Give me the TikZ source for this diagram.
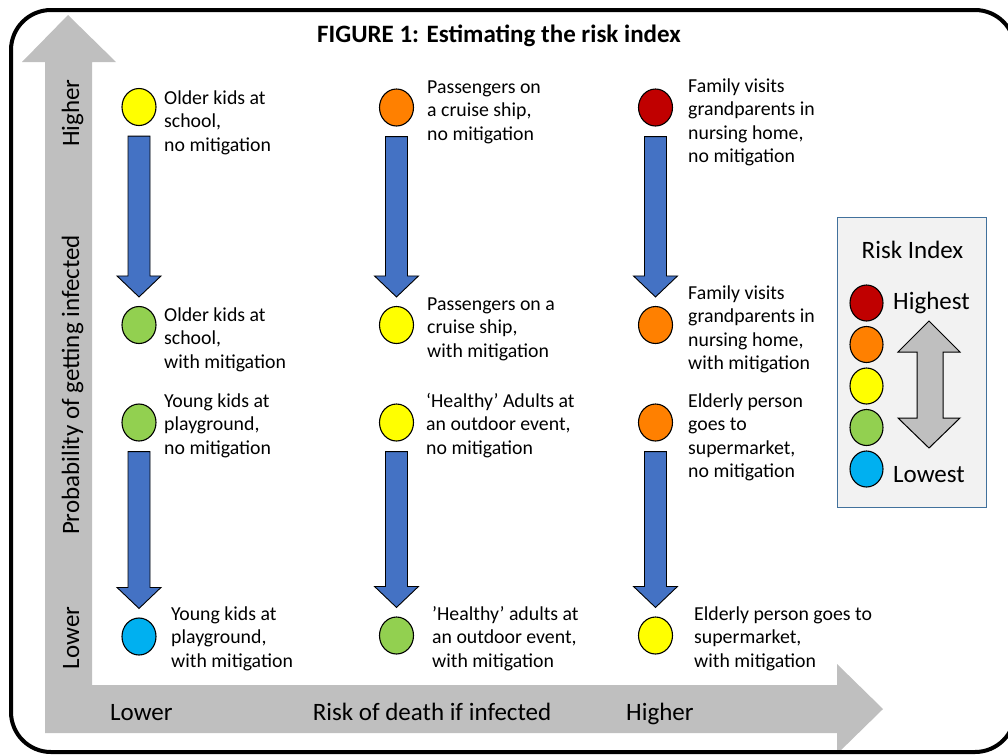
\documentclass[tikz,border=0pt]{standalone}
\usepackage{fontspec}
\setmainfont{Carlito}
\usepackage{tikz}
\usetikzlibrary{positioning,shapes.geometric,calc}

\definecolor{riskred}{HTML}{C00000}
\definecolor{riskorange}{HTML}{FF8000}
\definecolor{riskyellow}{HTML}{FFFF00}
\definecolor{riskgreen}{HTML}{92D050}
\definecolor{riskblue}{HTML}{00B0F0}
\definecolor{arrowblue}{HTML}{4472C4}
\definecolor{axisgray}{HTML}{BFBFBF}
\definecolor{keyfill}{HTML}{F2F2F2}
\definecolor{keyline}{HTML}{41719C}

% block arrow from circle #1 down to circle #2
\newcommand{\dropArrow}[2]{%
  \draw[droparrow] let \p1=(#1.south), \p2=(#2.north) in
    (\x1-11pt,\y1-10pt) -- (\x1+11pt,\y1-10pt) -- (\x1+11pt,\y2+30pt)
    -- (\x1+22pt,\y2+30pt) -- (\x1,\y2+9pt) -- (\x1-22pt,\y2+30pt)
    -- (\x1-11pt,\y2+30pt) -- cycle;}

\begin{document}
\begin{tikzpicture}[x=1pt,y=-1pt,
dot/.style={draw,ellipse,line width=1.1pt,minimum width=34pt,minimum height=37pt,inner sep=0},
keydot/.style={dot,minimum width=33pt,minimum height=36pt},
case/.style={anchor=base west,align=left,inner sep=0,font=\fontsize{19.8}{23.5}\selectfont},
axislabel/.style={inner sep=0,font=\fontsize{25}{29}\selectfont},
droparrow/.style={draw,fill=arrowblue,line width=0.9pt}]
\useasboundingbox (0,0) rectangle (1008,755);
\clip (0,0) rectangle (1008,755);

% axes
\fill[axisgray] (68,15) -- (116,62) -- (92,62) -- (92,685) -- (837,685)
  -- (837,664) -- (883,709) -- (837,754) -- (837,733) -- (45,733)
  -- (45,62) -- (22,62) -- cycle;
\node[axislabel,rotate=90,anchor=base] (yhigh) at (79,113) {Higher};
\node[axislabel,rotate=90,anchor=base] (yname) at (79,385) {Probability of getting infected};
\node[axislabel,rotate=90,anchor=base] (ylow) at (79,638) {Lower};
\node[axislabel,anchor=base west] (xlow) at (110,720) {Lower};
\node[axislabel,anchor=base] (xname) at (432,720) {Risk of death if infected};
\node[axislabel,anchor=base west] (xhigh) at (626,720) {Higher};

\node[font=\bfseries\fontsize{25}{30}\selectfont] (title) at (499,36) {FIGURE 1: Estimating the risk index};

% situations (text nodes sit on the baseline of their last line)
\node[dot,fill=riskyellow] (school1) at (139,107) {};
\node[dot,fill=riskgreen] (school2) at (139,325) {};
\node[dot,fill=riskorange] (cruise1) at (396.5,107.5) {};
\node[dot,fill=riskyellow] (cruise2) at (396.5,325) {};
\node[dot,fill=riskred] (nursing1) at (655.5,107.5) {};
\node[dot,fill=riskorange] (nursing2) at (655.5,325) {};
\node[dot,fill=riskgreen] (play1) at (139,422.5) {};
\node[dot,fill=riskblue] (play2) at (139,636.5) {};
\node[dot,fill=riskyellow] (outdoor1) at (396.5,422.5) {};
\node[dot,fill=riskgreen] (outdoor2) at (396.5,635.5) {};
\node[dot,fill=riskorange] (market1) at (655.5,422.5) {};
\node[dot,fill=riskyellow] (market2) at (655.5,635.5) {};

\node[case] (school1txt) at (164,151) {Older kids at\\school,\\no mitigation};
\node[case] (school2txt) at (164,368) {Older kids at\\school,\\with mitigation};
\node[case] (cruise1txt) at (427,140) {Passengers on\\a cruise ship,\\no mitigation};
\node[case] (cruise2txt) at (427,357) {Passengers on a\\cruise ship,\\with mitigation};
\node[case] (nursing1txt) at (688,162.5) {Family visits\\grandparents in\\nursing home,\\no mitigation};
\node[case] (nursing2txt) at (688,369.5) {Family visits\\grandparents in\\nursing home,\\with mitigation};
\node[case] (play1txt) at (164,454) {Young kids at\\playground,\\no mitigation};
\node[case] (play2txt) at (171,667) {Young kids at\\playground,\\with mitigation};
\node[case] (outdoor1txt) at (426,454) {‘Healthy’ Adults at\\an outdoor event,\\no mitigation};
\node[case] (outdoor2txt) at (432,667) {’Healthy’ adults at\\an outdoor event,\\with mitigation};
\node[case] (market1txt) at (688,477.5) {Elderly person\\goes to\\supermarket,\\no mitigation};
\node[case] (market2txt) at (694,667) {Elderly person goes to\\supermarket,\\with mitigation};

\dropArrow{school1}{school2}
\dropArrow{cruise1}{cruise2}
\dropArrow{nursing1}{nursing2}
\dropArrow{play1}{play2}
\dropArrow{outdoor1}{outdoor2}
\dropArrow{market1}{market2}

% legend
\node[draw=keyline,fill=keyfill,line width=1pt,minimum width=149pt,minimum height=290pt,inner sep=0] (key) at (911.5,362) {};
\node[axislabel,anchor=base] (keytitle) at (912.5,258) {Risk Index};
\node[keydot,fill=riskred] (keyred) at (866.5,303) {};
\node[keydot,fill=riskorange] (keyorange) at (866.5,344.5) {};
\node[keydot,fill=riskyellow] (keyyellow) at (866.5,386) {};
\node[keydot,fill=riskgreen] (keygreen) at (866.5,427.5) {};
\node[keydot,fill=riskblue] (keyblue) at (866.5,469) {};
\node[axislabel,anchor=base west] (keyhigh) at (893,309) {Highest};
\node[axislabel,anchor=base west] (keylow) at (893,482) {Lowest};
\draw[fill=axisgray,line width=1pt] (929,321) -- (960,352) -- (943,352) -- (943,418)
  -- (960,418) -- (929,448) -- (898,418) -- (917,418) -- (917,352) -- (898,352) -- cycle;

% frame
\draw[line width=4pt,rounded corners=40pt] (11,10) rectangle (1015,752);
\end{tikzpicture}
\end{document}
